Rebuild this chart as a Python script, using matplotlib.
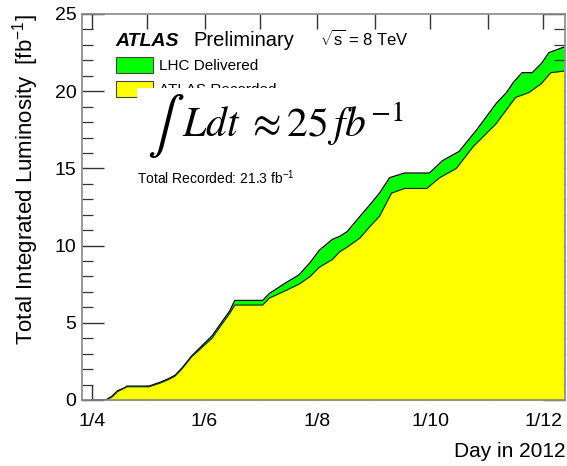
import matplotlib
matplotlib.use("Agg")
import matplotlib.pyplot as plt
from matplotlib.patches import Rectangle
from matplotlib.ticker import MultipleLocator
import numpy as np

plt.rcParams['font.family'] = ['Liberation Sans', 'DejaVu Sans']
plt.rcParams['mathtext.fontset'] = 'custom'
plt.rcParams['mathtext.rm'] = 'Liberation Sans'

# Day of year 2012 and integrated luminosity [fb^-1]
days_delivered = [92, 99, 100.5, 103, 106, 110, 111, 123, 129, 133, 137, 141, 146, 151.5,
                  157, 162, 166.5, 169.3, 184.4, 188, 197, 204, 210, 215, 222, 226, 230,
                  237, 242, 247.5, 253, 261, 274.5, 281.5, 290.5, 300, 310.5, 316, 320,
                  324.5, 330, 335, 339, 347]
lumi_delivered = [0, 0, 0.05, 0.25, 0.6, 0.8, 0.9, 0.9, 1.15, 1.35, 1.6, 2.1, 2.85, 3.5,
                  4.15, 5.0, 5.75, 6.45, 6.45, 6.9, 7.6, 8.1, 8.9, 9.7, 10.4, 10.6, 10.9,
                  11.9, 12.6, 13.4, 14.4, 14.7, 14.7, 15.5, 16.1, 17.5, 19.2, 19.9, 20.6,
                  21.2, 21.2, 21.8, 22.5, 22.85]

days_recorded = [92, 99, 100.5, 103, 106, 111, 123, 129, 133, 137, 141, 146, 151.5, 157,
                 162, 166.5, 169.3, 184.4, 188, 197, 204, 210, 215, 222, 226, 230, 237,
                 242, 247.5, 254, 261, 273, 280, 289, 298, 310.5, 321, 328, 335, 340, 347]
lumi_recorded = [0, 0, 0.05, 0.2, 0.55, 0.86, 0.86, 1.1, 1.3, 1.55, 2.05, 2.8, 3.4, 4.0,
                 4.85, 5.6, 6.15, 6.15, 6.6, 7.1, 7.5, 8.0, 8.6, 9.1, 9.6, 9.9, 10.5,
                 11.2, 11.9, 13.4, 13.7, 13.7, 14.4, 15.0, 16.4, 17.9, 19.6, 19.9, 20.5,
                 21.2, 21.3]

tick_days = [92, 122, 153, 183, 214, 245, 275, 306, 336]
tick_labels = ['1/4', '', '1/6', '', '1/8', '', '1/10', '', '1/12']

fig = plt.figure(figsize=(5.67, 4.66), dpi=100)
ax = fig.add_axes([82/567, 1-400/466, (565-82)/567, (400-14)/466])

grid = np.union1d(days_delivered, days_recorded)
deliv_g = np.interp(grid, days_delivered, lumi_delivered)
rec_g = np.interp(grid, days_recorded, lumi_recorded)

ax.fill_between(grid, 0, deliv_g, color='#00ff00', lw=0, zorder=1)
ax.fill_between(grid, 0, rec_g, color='#ffff00', lw=0, zorder=2)
ax.plot(days_delivered, lumi_delivered, color='black', lw=0.9, zorder=3)
ax.plot(days_recorded, lumi_recorded, color='#222222', lw=0.8, zorder=3)

ax.set_xlim(86.8, 347.7)
ax.set_ylim(0, 25)

ax.set_xticks(tick_days)
ax.set_xticklabels(tick_labels)
ax.yaxis.set_major_locator(MultipleLocator(5))
ax.yaxis.set_minor_locator(MultipleLocator(1))
ax.tick_params(axis='both', which='major', direction='in', top=True, right=True,
               labelsize=14, color='#333333')
ax.tick_params(axis='y', which='major', length=16, width=1, pad=4)
ax.tick_params(axis='y', which='minor', direction='in', right=True, length=8, width=0.9,
               color='#333333')
ax.tick_params(axis='x', which='major', length=11, width=1, pad=9)
for s in ax.spines.values():
    s.set_color('#888888')
    s.set_linewidth(1.2)
    s.set_zorder(5)

ax.set_ylabel(r'Total Integrated Luminosity  [fb$^{-1}$]', fontsize=16, loc='top', labelpad=10)
ax.set_xlabel('Day in 2012', fontsize=15, loc='right', labelpad=9)

T = ax.transAxes
def px(x, y):
    return ((x - 82) / 483, (400 - y) / 386)

ax.text(*px(115, 46), 'ATLAS', transform=T, fontsize=14, fontweight='bold', style='italic', va='baseline')
ax.text(*px(193, 46), 'Preliminary', transform=T, fontsize=14.5, va='baseline')
ax.text(*px(320, 46), r'$\sqrt{\mathrm{s}}$ = 8 TeV', transform=T, fontsize=12, va='baseline')

ax.add_patch(Rectangle(px(116, 73), 37/483, 16/386, transform=T, facecolor='#00ff00',
                       edgecolor='#444444', lw=0.8, clip_on=False, zorder=6))
ax.text(*px(159, 70), 'LHC Delivered', transform=T, fontsize=11, va='baseline', zorder=6)
ax.add_patch(Rectangle(px(116, 97), 37/483, 16/386, transform=T, facecolor='#ffff00',
                       edgecolor='#444444', lw=0.8, clip_on=False, zorder=6))
ax.text(*px(159, 94), 'ATLAS Recorded', transform=T, fontsize=11, va='baseline', zorder=6)

# white box covering the lower part of the legend, with the integral text on it
ax.add_patch(Rectangle(px(137, 150), (420-137)/483, 62/386, transform=T, facecolor='white',
                       edgecolor='none', clip_on=False, zorder=7))
ax.text(*px(147, 140), r'$\int$', transform=T, fontsize=40, va='baseline', zorder=8,
        math_fontfamily='stix')
ax.text(*px(182, 137), r'$Ldt\;\approx 25\,fb^{-1}$', transform=T, fontsize=30,
        va='baseline', zorder=8, math_fontfamily='stix')

ax.text(*px(137, 184), r'Total Recorded: 21.3 fb$^{\mathregular{-1}}$', transform=T,
        fontsize=10, va='baseline', zorder=6)

fig.savefig('out.png', dpi=100)
